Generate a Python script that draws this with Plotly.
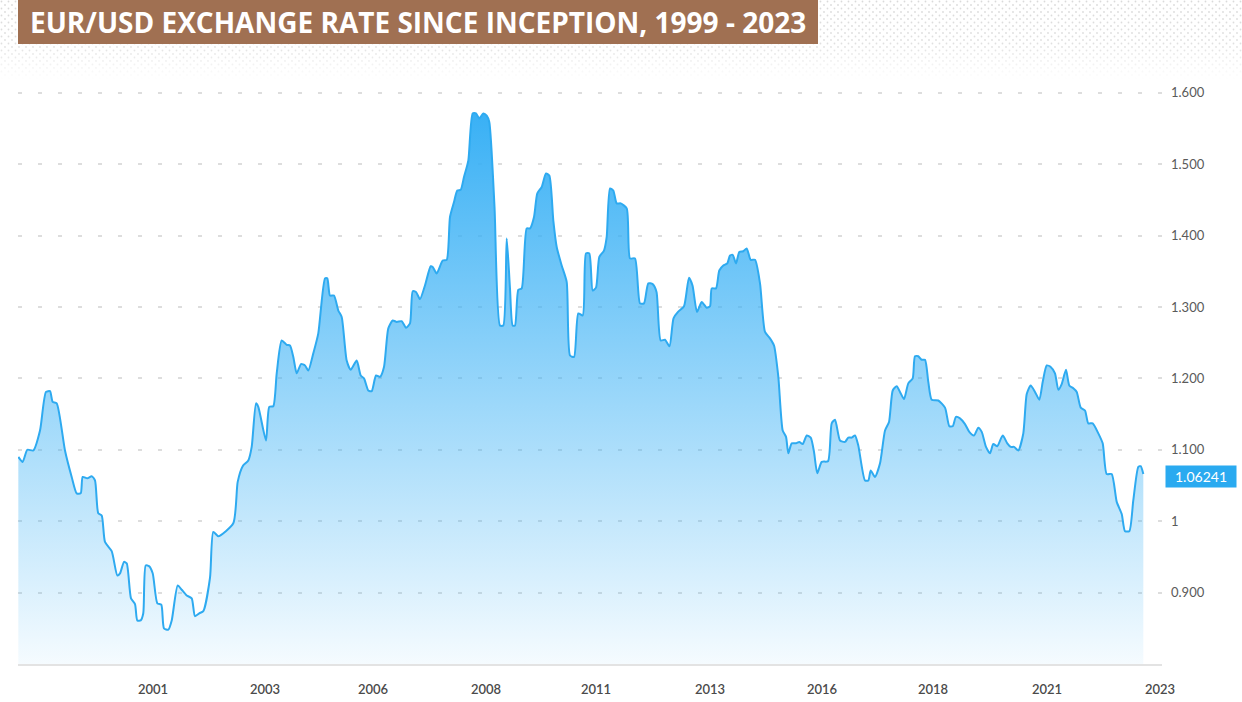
import base64
import plotly.graph_objects as go

# ---- data (decimal year, EUR/USD rate) ----
years = [1998.207, 1998.304, 1998.407, 1998.540, 1998.689, 1998.822, 1998.911, 1998.971, 1999.060, 1999.244,
         1999.393, 1999.504, 1999.593, 1999.638, 1999.740, 1999.838, 1999.911, 1999.984, 2000.060, 2000.133,
         2000.282, 2000.407, 2000.467, 2000.556, 2000.616, 2000.711, 2000.800, 2000.851, 2000.927, 2000.984,
         2001.038, 2001.111, 2001.193, 2001.296, 2001.384, 2001.444, 2001.540, 2001.616, 2001.749, 2001.838,
         2001.949, 2002.060, 2002.133, 2002.229, 2002.318, 2002.467, 2002.540, 2002.651, 2002.984, 2003.082,
         2003.193, 2003.318, 2003.393, 2003.489, 2003.540, 2003.711, 2003.784, 2003.873, 2003.949, 2004.060,
         2004.171, 2004.244, 2004.318, 2004.393, 2004.489, 2004.578, 2004.651, 2004.762, 2004.873, 2005.022,
         2005.073, 2005.133, 2005.222, 2005.318, 2005.393, 2005.504, 2005.593, 2005.727, 2005.816, 2005.889,
         2005.984, 2006.060, 2006.156, 2006.244, 2006.333, 2006.429, 2006.527, 2006.616, 2006.727, 2006.822,
         2006.911, 2006.971, 2007.044, 2007.133, 2007.244, 2007.371, 2007.416, 2007.504, 2007.638, 2007.727,
         2007.800, 2007.889, 2007.962, 2008.038, 2008.111, 2008.207, 2008.304, 2008.378, 2008.451, 2008.540,
         2008.616, 2008.673, 2008.789, 2008.911, 2008.984, 2009.060, 2009.133, 2009.193, 2009.244, 2009.318,
         2009.393, 2009.504, 2009.578, 2009.667, 2009.740, 2009.838, 2009.933, 2010.007, 2010.096, 2010.171,
         2010.282, 2010.393, 2010.467, 2010.556, 2010.651, 2010.749, 2010.822, 2010.896, 2010.971, 2011.044,
         2011.118, 2011.222, 2011.282, 2011.356, 2011.429, 2011.504, 2011.593, 2011.727, 2011.800, 2011.911,
         2012.022, 2012.111, 2012.207, 2012.304, 2012.389, 2012.482, 2012.578, 2012.678, 2012.767, 2012.867,
         2013.000, 2013.111, 2013.189, 2013.289, 2013.393, 2013.504, 2013.578, 2013.616, 2013.711, 2013.784,
         2013.873, 2013.962, 2014.022, 2014.082, 2014.156, 2014.229, 2014.318, 2014.393, 2014.482, 2014.578,
         2014.689, 2014.800, 2014.911, 2015.000, 2015.096, 2015.193, 2015.267, 2015.318, 2015.393, 2015.489,
         2015.562, 2015.638, 2015.727, 2015.816, 2015.889, 2015.962, 2016.060, 2016.200, 2016.282, 2016.356,
         2016.467, 2016.578, 2016.651, 2016.727, 2016.800, 2016.873, 2017.022, 2017.096, 2017.149, 2017.244,
         2017.356, 2017.467, 2017.556, 2017.638, 2017.727, 2017.800, 2017.889, 2017.984, 2018.082, 2018.133,
         2018.207, 2018.282, 2018.356, 2018.429, 2018.504, 2018.651, 2018.800, 2018.896, 2018.971, 2019.044,
         2019.133, 2019.244, 2019.340, 2019.444, 2019.540, 2019.616, 2019.711, 2019.800, 2019.873, 2019.962,
         2020.082, 2020.184, 2020.260, 2020.333, 2020.429, 2020.540, 2020.616, 2020.704, 2020.800, 2020.896,
         2020.971, 2021.060, 2021.149, 2021.244, 2021.318, 2021.393, 2021.489, 2021.562, 2021.651, 2021.727,
         2021.816, 2021.911, 2021.984, 2022.082, 2022.207, 2022.304, 2022.393, 2022.504, 2022.616, 2022.727,
         2022.800, 2022.896, 2022.984, 2023.096, 2023.149, 2023.207]

rates = [1.090, 1.083, 1.100, 1.099, 1.127, 1.181, 1.182, 1.167, 1.165, 1.099,
         1.062, 1.039, 1.039, 1.062, 1.060, 1.063, 1.057, 1.011, 1.008, 0.971,
         0.958, 0.924, 0.927, 0.943, 0.941, 0.892, 0.884, 0.861, 0.861, 0.871,
         0.938, 0.937, 0.927, 0.885, 0.883, 0.850, 0.848, 0.861, 0.910, 0.904,
         0.896, 0.892, 0.867, 0.871, 0.874, 0.921, 0.985, 0.979, 0.997, 1.055,
         1.077, 1.085, 1.104, 1.165, 1.160, 1.113, 1.160, 1.161, 1.207, 1.253,
         1.247, 1.246, 1.230, 1.207, 1.220, 1.218, 1.211, 1.235, 1.263, 1.340,
         1.340, 1.316, 1.316, 1.295, 1.286, 1.225, 1.212, 1.225, 1.204, 1.200,
         1.183, 1.182, 1.204, 1.202, 1.216, 1.270, 1.281, 1.279, 1.280, 1.271,
         1.277, 1.322, 1.321, 1.311, 1.330, 1.357, 1.356, 1.347, 1.365, 1.366,
         1.426, 1.447, 1.463, 1.464, 1.482, 1.505, 1.571, 1.571, 1.564, 1.571,
         1.568, 1.559, 1.440, 1.274, 1.274, 1.396, 1.326, 1.274, 1.274, 1.324,
         1.326, 1.410, 1.410, 1.426, 1.459, 1.468, 1.487, 1.484, 1.421, 1.384,
         1.358, 1.335, 1.232, 1.230, 1.291, 1.288, 1.375, 1.375, 1.323, 1.327,
         1.370, 1.379, 1.398, 1.466, 1.463, 1.445, 1.445, 1.438, 1.368, 1.368,
         1.305, 1.305, 1.333, 1.332, 1.321, 1.253, 1.254, 1.245, 1.284, 1.293,
         1.301, 1.341, 1.330, 1.293, 1.307, 1.299, 1.301, 1.326, 1.326, 1.351,
         1.358, 1.361, 1.372, 1.373, 1.361, 1.377, 1.378, 1.382, 1.366, 1.366,
         1.333, 1.265, 1.256, 1.246, 1.202, 1.127, 1.118, 1.095, 1.109, 1.109,
         1.111, 1.108, 1.120, 1.117, 1.097, 1.067, 1.083, 1.084, 1.137, 1.142,
         1.113, 1.111, 1.117, 1.117, 1.120, 1.106, 1.057, 1.057, 1.071, 1.062,
         1.081, 1.127, 1.139, 1.183, 1.189, 1.181, 1.171, 1.193, 1.200, 1.231,
         1.231, 1.226, 1.226, 1.195, 1.170, 1.169, 1.159, 1.133, 1.133, 1.146,
         1.144, 1.136, 1.125, 1.120, 1.131, 1.125, 1.104, 1.095, 1.108, 1.105,
         1.120, 1.109, 1.104, 1.104, 1.099, 1.123, 1.178, 1.190, 1.181, 1.170,
         1.195, 1.218, 1.216, 1.207, 1.184, 1.192, 1.212, 1.190, 1.186, 1.181,
         1.159, 1.155, 1.137, 1.137, 1.123, 1.109, 1.066, 1.066, 1.027, 1.010,
         0.986, 0.986, 1.029, 1.076, 1.077, 1.066]

if len(years) != len(rates):
    raise ValueError(f"length mismatch {len(years)} vs {len(rates)}")

x_tick_vals = [2001.2, 2003.689, 2006.089, 2008.6, 2011.044, 2013.578, 2016.067, 2018.533, 2021.067, 2023.578]
x_tick_text = ["2001", "2003", "2006", "2008", "2011", "2013", "2016", "2018", "2021", "2023"]
y_tick_vals = [0.9, 1.0, 1.1, 1.2, 1.3, 1.4, 1.5, 1.6]
y_tick_text = ["0.900", "1", "1.100", "1.200", "1.300", "1.400", "1.500", "1.600"]
last_rate = 1.06241
title_text = "EUR/USD EXCHANGE RATE SINCE INCEPTION, 1999 - 2023"

# ---- layout geometry ----
W, H = 1242, 702
ML, MR, MT, MB = 18, 80, 57, 38
PW, PH = W - ML - MR, H - MT - MB

def px_x(p):
    return (p - ML) / PW

def px_y(p):
    return (H - MB - p) / PH

LINE = "#2eaaf0"
FONT = "Lato, 'Open Sans', sans-serif"

fig = go.Figure()
fig.add_trace(go.Scatter(
    x=years, y=rates, mode="lines",
    line=dict(color=LINE, width=2, shape="spline", smoothing=0.6),
    fill="tozeroy",
    fillgradient=dict(type="vertical", start=0.80, stop=1.575,
                      colorscale=[[0, "rgba(56,176,245,0.05)"], [1, "rgba(56,176,245,1)"]]),
    hoverinfo="skip", showlegend=False,
))

# dotted background pattern at the top
svg = ('<svg xmlns="http://www.w3.org/2000/svg" width="1242" height="80">'
       '<defs><pattern id="p" width="7" height="7" patternUnits="userSpaceOnUse">'
       '<circle cx="1.5" cy="1.5" r="0.9" fill="#dadada"/><circle cx="5" cy="5" r="0.9" fill="#dadada"/></pattern>'
       '<linearGradient id="g" x1="0" y1="0" x2="0" y2="1">'
       '<stop offset="0" stop-color="white" stop-opacity="1"/>'
       '<stop offset="0.55" stop-color="white" stop-opacity="0.85"/>'
       '<stop offset="1" stop-color="white" stop-opacity="0"/></linearGradient>'
       '<mask id="m"><rect width="1242" height="80" fill="url(#g)"/></mask></defs>'
       '<rect width="1242" height="80" fill="url(#p)" mask="url(#m)"/></svg>')
src = "data:image/svg+xml;base64," + base64.b64encode(svg.encode()).decode()

fig.update_layout(
    width=W, height=H, autosize=False,
    margin=dict(l=ML, r=MR, t=MT, b=MB, pad=0, autoexpand=False),
    paper_bgcolor="white", plot_bgcolor="rgba(0,0,0,0)",
    font=dict(family=FONT, color="#555555", size=13),
    images=[dict(source=src, xref="paper", yref="paper", x=px_x(0), y=px_y(0),
                 sizex=W / PW, sizey=80 / PH, xanchor="left", yanchor="top",
                 sizing="stretch", layer="below")],
    shapes=[dict(type="rect", xref="paper", yref="paper",
                 x0=px_x(18), x1=px_x(818), y0=px_y(44), y1=px_y(0),
                 fillcolor="#a07052", line=dict(width=0), layer="above")],
    annotations=[
        dict(text="<b>" + title_text + "</b>", xref="paper", yref="paper",
             x=px_x(418), y=px_y(22), xanchor="center", yanchor="middle", showarrow=False,
             font=dict(family="'Open Sans', sans-serif", size=28, color="white")),
        dict(text=f"{last_rate:.5f}", xref="paper", yref="y", x=px_x(1165), y=last_rate,
             xanchor="left", yanchor="middle", showarrow=False,
             bgcolor="#2aaaf0", borderpad=3, width=64, height=15,
             font=dict(family=FONT, size=14, color="white")),
    ],
    xaxis=dict(range=[1998.2, 2023.622], showgrid=False, zeroline=False, automargin=False,
               showline=True, linecolor="#e3e3e3", linewidth=2,
               tickmode="array", tickvals=x_tick_vals, ticktext=x_tick_text,
               ticks="", ticklabelstandoff=12,
               tickfont=dict(family=FONT, size=13, color="#4a4a4a", weight=600)),
    yaxis=dict(range=[0.80, 1.65], side="right", zeroline=False, showline=False, automargin=False,
               tickmode="array", tickvals=y_tick_vals, ticktext=y_tick_text,
               showgrid=True, gridcolor="#dddddd", gridwidth=2, griddash="4px,16px",
               ticks="", ticklabelstandoff=8,
               tickfont=dict(family=FONT, size=13, color="#5a5a5a")),
)

fig.write_html("out.html", config={"displayModeBar": False},
               post_script="document.body.style.margin='0';document.body.style.overflow='hidden';")
